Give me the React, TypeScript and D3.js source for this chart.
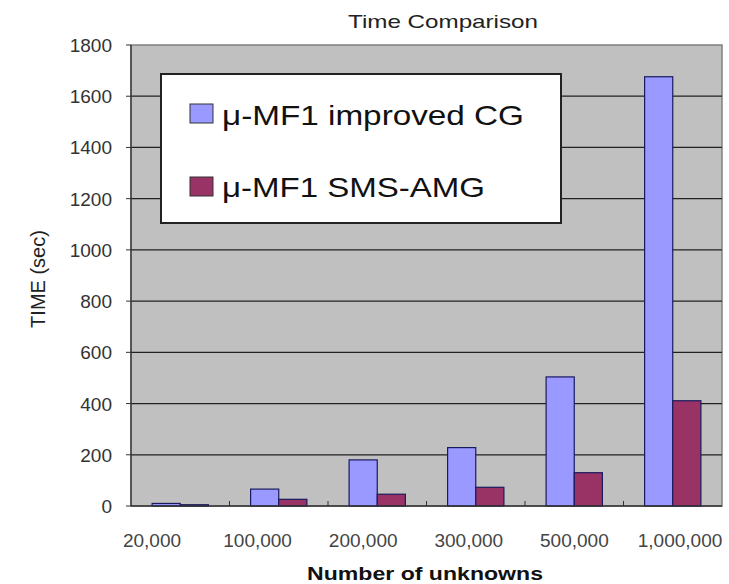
import React from "react";
import * as d3 from "d3";

const categories = ["20,000", "100,000", "200,000", "300,000", "500,000", "1,000,000"];
const improvedCG = [10, 66, 180, 228, 504, 1676];
const smsAMG = [5, 26, 46, 73, 130, 411];
const seriesNames = ["μ-MF1 improved CG", "μ-MF1 SMS-AMG"];
const legendTextWidths = [302, 263];
const yTicks = [0, 200, 400, 600, 800, 1000, 1200, 1400, 1600, 1800];

const W = 729, H = 584;
const plot = { left: 131, right: 722, top: 45, bottom: 506 };
const colors = ["#9999FF", "#993366"];
const font = "Arial, 'Liberation Sans', sans-serif";

export default function App() {
  const x = d3.scaleBand().domain(categories).range([plot.left, plot.right]);
  const xLabel = d3.scalePoint().domain(categories).range([152, 680]);
  const y = d3.scaleLinear().domain([0, 1800]).range([plot.bottom, plot.top]);
  const bw = x.bandwidth() / 3.5;
  const series = [improvedCG, smsAMG];
  return (
    <svg width={W} height={H} style={{ position: "absolute", left: 0, top: 0, background: "#fff" }}>
      <rect x={0} y={0} width={W} height={H} fill="#fff" />
      <text x={443} y={28} textAnchor="middle" fontFamily={font} fontSize={19} fill="#222" textLength={190} lengthAdjust="spacingAndGlyphs">Time Comparison</text>
      <rect x={plot.left} y={plot.top} width={plot.right - plot.left} height={plot.bottom - plot.top} fill="#C0C0C0" stroke="#808080" strokeWidth={1.5} />
      {yTicks.map((t) => (
        <g key={t}>
          {t > 0 && t < 1800 && (
            <line x1={plot.left} x2={plot.right} y1={y(t)} y2={y(t)} stroke="#222" strokeWidth={1.3} />
          )}
          <line x1={plot.left - 5} x2={plot.left} y1={y(t)} y2={y(t)} stroke="#333" />
          <text x={112} y={y(t) + 7} textAnchor="end" fontFamily={font} fontSize={19} fill="#333">{t}</text>
        </g>
      ))}
      {series.map((vals, si) =>
        vals.map((v, i) => {
          const x0 = (x(categories[i]) as number) + 0.75 * bw + si * bw;
          return (
            <rect key={si + "-" + i} x={x0} y={y(v)} width={bw} height={y(0) - y(v)} fill={colors[si]} stroke="#1a1a60" strokeWidth={1.2} />
          );
        })
      )}
      <line x1={plot.left} x2={plot.left} y1={plot.top} y2={plot.bottom} stroke="#333" strokeWidth={1.3} />
      <line x1={plot.left} x2={plot.right} y1={plot.bottom} y2={plot.bottom} stroke="#333" strokeWidth={1.6} />
      {categories.map((c, i) => (
        <g key={c}>
          {i > 0 && (
            <line x1={x(c) as number} x2={x(c) as number} y1={plot.bottom} y2={plot.bottom - 5} stroke="#333" />
          )}
          <text x={xLabel(c) as number} y={547} textAnchor="middle" fontFamily={font} fontSize={19} fill="#444">{c}</text>
        </g>
      ))}
      <text x={425} y={580} textAnchor="middle" fontFamily={font} fontSize={18} fontWeight="bold" fill="#111" textLength={236} lengthAdjust="spacingAndGlyphs">Number of unknowns</text>
      <text transform={`translate(45, ${279}) rotate(-90)`} textAnchor="middle" fontFamily={font} fontSize={20} fill="#222">TIME (sec)</text>
      <rect x={161} y={74} width={400} height={149} fill="#fff" stroke="#222" strokeWidth={2} />
      {seriesNames.map((n, i) => (
        <g key={n}>
          <rect x={190} y={104 + i * 73} width={23} height={19} fill={colors[i]} stroke="#333" />
          <text x={222} y={125 + i * 72} fontFamily={font} fontSize={28} fill="#111" textLength={legendTextWidths[i]} lengthAdjust="spacingAndGlyphs">{n}</text>
        </g>
      ))}
    </svg>
  );
}
